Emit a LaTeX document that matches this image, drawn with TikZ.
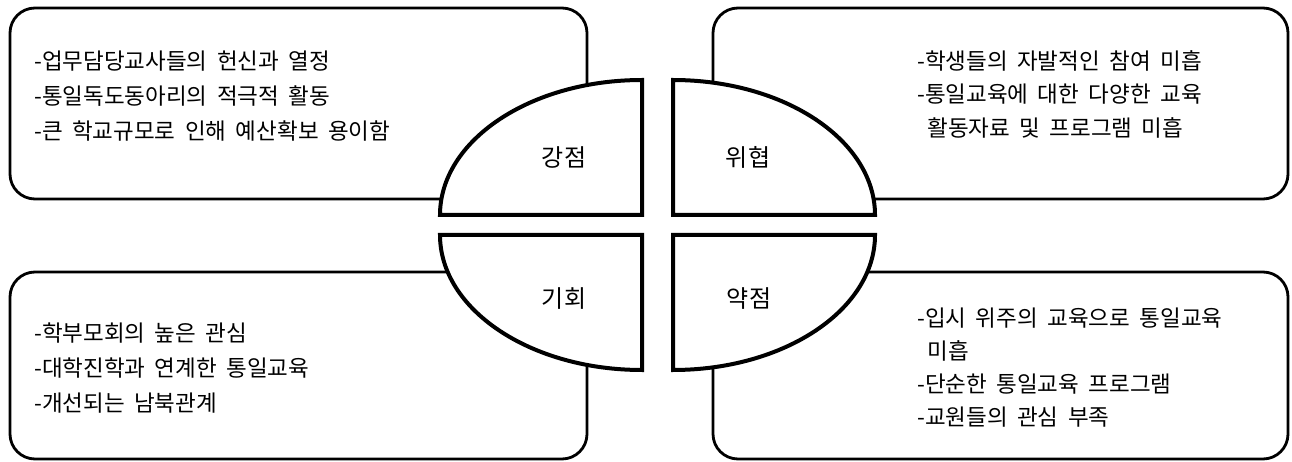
\documentclass[tikz,border=0pt]{standalone}
\usepackage{fontspec}
\newfontfamily\kr{Noto Sans CJK KR}
\newcommand\krtext[1]{\kr\fontsize{22.5}{#1}\selectfont\spaceskip=0.42em\relax}
\begin{document}
\begin{tikzpicture}[x=1pt,y=-1pt,
  boxline/.style={draw=black,line width=2.8pt,fill=white,rounded corners=25pt},
  quarter/.style={draw=black,line width=4pt,fill=white,line join=miter},
  itemtext/.style={anchor=west,align=left,inner sep=0pt,font=\krtext{35}},
  label/.style={inner sep=0pt,font=\kr\fontsize{24}{27}\selectfont}]
\useasboundingbox[fill=white] (0,0) rectangle (1292,462);
% boxes
\draw[boxline] (10,8) rectangle (587,199);
\draw[boxline] (713,8) rectangle (1288,199);
\draw[boxline] (10,272) rectangle (587,459);
\draw[boxline] (713,272) rectangle (1288,459);
% quarters
\draw[quarter] (642,215) -- (440,215) arc[start angle=180,end angle=270,x radius=202,y radius=135] -- cycle;
\draw[quarter] (673,215) -- (875,215) arc[start angle=0,end angle=-90,x radius=202,y radius=135] -- cycle;
\draw[quarter] (440,235) -- (642,235) -- (642,370) arc[start angle=90,end angle=180,x radius=202,y radius=135] -- cycle;
\draw[quarter] (673,370) -- (673,235) -- (875,235) arc[start angle=0,end angle=90,x radius=202,y radius=135] -- cycle;
% labels
\node[label] (s) at (564,157) {강점};
\node[label] (w) at (748,157) {위협};
\node[label] (o) at (564,299) {기회};
\node[label] (t) at (749,299) {약점};
% texts
\node[itemtext] (stext) at (34,96) {-업무담당교사들의 헌신과 열정\\-통일독도동아리의 적극적 활동\\-큰 학교규모로 인해 예산확보 용이함};
\node[itemtext,font=\krtext{33.5}] (wtext) at (917,94) {-학생들의 자발적인 참여 미흡\\-통일교육에 대한 다양한 교육\\\hspace*{0.45em}활동자료 및 프로그램 미흡};
\node[itemtext] (otext) at (34,368) {-학부모회의 높은 관심\\-대학진학과 연계한 통일교육\\-개선되는 남북관계};
\node[itemtext,font=\krtext{33}] (ttext) at (917,368) {-입시 위주의 교육으로 통일교육\\\hspace*{0.45em}미흡\\-단순한 통일교육 프로그램\\-교원들의 관심 부족};
\end{tikzpicture}
\end{document}
